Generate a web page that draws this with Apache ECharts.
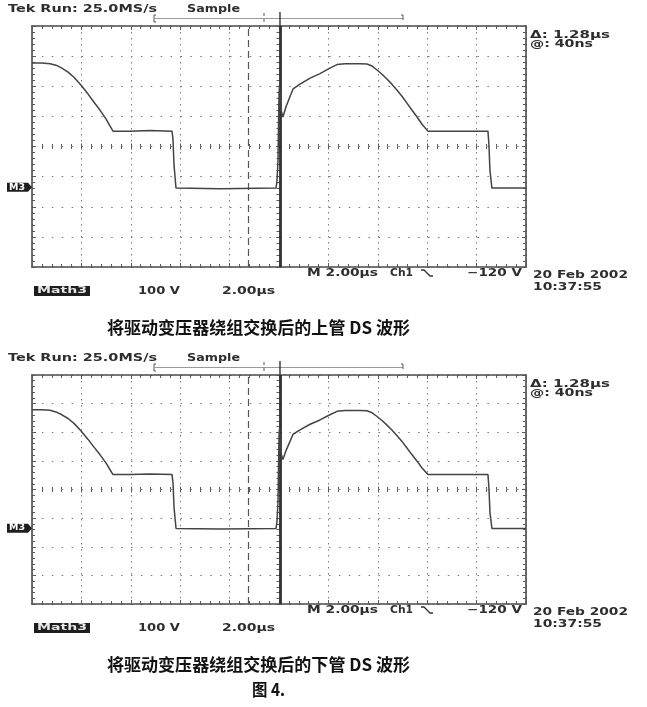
<!DOCTYPE html>
<html>
<head>
<meta charset="utf-8">
<script src="https://cdn.jsdelivr.net/npm/echarts@6/dist/echarts.min.js"></script>
<style>
  html, body { margin: 0; padding: 0; background: #fff; }
  #c { width: 647px; height: 707px; }
</style>
</head>
<body>
<div id="c"></div>
<script>
// Upper switch drain-source voltage after swapping the drive transformer windings
const upperTime = [-10.00, -9.60, -9.27, -9.03, -8.79, -8.54, -8.30, -8.02, -7.73, -7.49, -7.25, -7.00, -6.84, -6.72,
  -6.03, -5.22, -4.33, -4.29, -4.25, -4.17, -2.39, -0.12, -0.08, -0.04, 0.00, 0.02, 0.08, 0.16, 0.28, 0.45, 0.57,
  0.85, 1.26, 1.66, 2.06, 2.35, 2.67, 3.28, 3.56, 3.77, 3.97, 4.17, 4.37, 4.57, 4.78, 4.98, 5.18, 5.38, 5.59, 5.79,
  6.03, 7.33, 8.46, 8.50, 8.54, 8.62, 10.00];
const upperVolts = [412, 412, 410, 405, 395, 382, 365, 339, 309, 282, 256, 226, 203, 186,
  186, 188, 186, 156, 73, -3, -5, -3, 23, 90, 306, 339, 256, 233, 266, 302, 326,
  342, 362, 377, 395, 407, 410, 410, 409, 402, 389, 375, 359, 342, 322, 302, 279, 256, 233, 209,
  186, 186, 186, 140, 56, -3, -3];

// Lower switch drain-source voltage, same conditions
const lowerTime = [-10.00, -9.60, -9.27, -9.03, -8.79, -8.54, -8.30, -8.02, -7.73, -7.49, -7.25, -7.00, -6.84, -6.72,
  -6.03, -5.22, -4.33, -4.29, -4.25, -4.17, -2.39, -0.12, -0.08, -0.04, 0.00, 0.02, 0.08, 0.16, 0.28, 0.45, 0.57,
  0.85, 1.26, 1.66, 2.06, 2.35, 2.67, 3.28, 3.56, 3.77, 3.97, 4.17, 4.37, 4.57, 4.78, 4.98, 5.18, 5.38, 5.59, 5.79,
  6.03, 7.33, 8.46, 8.50, 8.54, 8.62, 10.00];
const lowerVolts = [414, 414, 412, 406, 396, 383, 366, 340, 310, 283, 257, 227, 204, 187,
  187, 189, 187, 156, 73, -1, -3, -1, 25, 95, 320, 348, 262, 240, 270, 304, 328,
  343, 363, 378, 396, 408, 411, 411, 410, 403, 390, 376, 360, 343, 323, 303, 280, 257, 234, 210,
  187, 187, 187, 140, 56, -1, -1];

// Cursor positions (µs): inactive (dashed) and active (solid)
const cursorTimes = [-1.24, 0.04];

// Scope settings
const usPerDiv = 2;
const voltsPerDiv = 100;
const groundDiv = -1.35;      // Math3 reference marker, divisions from screen centre
const captions = ['将驱动变压器绕组交换后的上管 DS 波形', '将驱动变压器绕组交换后的下管 DS 波形'];
const figureTitle = '图 4.';

const grids = [
  { left: 32, top: 26, width: 494, height: 241 },
  { left: 32, top: 375, width: 494, height: 229 }
];

const toScreen = (times, volts) => times.map((t, i) => [t, volts[i] / voltsPerDiv + groundDiv]);

const tickColor = '#5a5a5a';
const gridDots = '#7a7a7a';
const borderLine = { show: true, onZero: false, lineStyle: { color: '#4a4a4a', width: 1.6 } };

function axesFor(g) {
  const base = g * 4;
  const xCommon = { type: 'value', gridIndex: g, min: -5 * usPerDiv, max: 5 * usPerDiv, interval: usPerDiv,
    axisLabel: { show: false }, splitLine: { show: false } };
  const yCommon = { type: 'value', gridIndex: g, min: -4, max: 4, interval: 1,
    axisLabel: { show: false }, splitLine: { show: false } };
  const ticks = (inside, len) => ({ show: true, inside, length: len, lineStyle: { color: tickColor, width: 1 } });
  const minor = (len) => ({ show: true, splitNumber: 5, length: len, lineStyle: { color: tickColor, width: 1 } });
  const hidden = (idx) => ({ show: true, onZero: true, onZeroAxisIndex: idx, lineStyle: { color: 'rgba(0,0,0,0)' } });

  const xs = [
    Object.assign({}, xCommon, { position: 'bottom', axisLine: borderLine, axisTick: ticks(true, 4), minorTick: minor(3),
      splitLine: { show: true, lineStyle: { color: gridDots, width: 1, type: [1.5, 4.5] } } }),
    Object.assign({}, xCommon, { position: 'top', axisLine: borderLine, axisTick: ticks(true, 4), minorTick: minor(3) }),
    Object.assign({}, xCommon, { position: 'bottom', axisLine: hidden(base), axisTick: ticks(true, 3), minorTick: minor(2.5) }),
    Object.assign({}, xCommon, { position: 'bottom', axisLine: hidden(base), axisTick: ticks(false, 3), minorTick: minor(2.5) })
  ];
  const ys = [
    Object.assign({}, yCommon, { position: 'left', axisLine: borderLine, axisTick: ticks(true, 4), minorTick: minor(3),
      splitLine: { show: true, lineStyle: { color: gridDots, width: 1, type: [1.5, 8.4] } } }),
    Object.assign({}, yCommon, { position: 'right', axisLine: borderLine, axisTick: ticks(true, 4), minorTick: minor(3) }),
    Object.assign({}, yCommon, { position: 'left', axisLine: hidden(base), axisTick: ticks(true, 3), minorTick: minor(2.5) }),
    Object.assign({}, yCommon, { position: 'left', axisLine: hidden(base), axisTick: ticks(false, 3), minorTick: minor(2.5) })
  ];
  return { xs, ys };
}

function traceSeries(g, data) {
  return {
    type: 'line', xAxisIndex: g * 4, yAxisIndex: g * 4, data, showSymbol: false, symbol: 'none',
    lineStyle: { color: '#444', width: 1.5 }, animation: false, z: 5,
    markLine: {
      silent: true, symbol: 'none', label: { show: false }, animation: false,
      data: [
        { xAxis: cursorTimes[0], lineStyle: { type: [7, 4], color: '#555', width: 1.2 } },
        { xAxis: cursorTimes[1], lineStyle: { type: 'solid', color: '#333', width: 2.8 } }
      ]
    }
  };
}

const a0 = axesFor(0), a1 = axesFor(1);
const chart = echarts.init(document.getElementById('c'));
chart.setOption({
  animation: false,
  backgroundColor: '#fff',
  grid: grids,
  xAxis: a0.xs.concat(a1.xs),
  yAxis: a0.ys.concat(a1.ys),
  series: [
    traceSeries(0, toScreen(upperTime, upperVolts)),
    traceSeries(1, toScreen(lowerTime, lowerVolts))
  ]
});

// Screen annotations (readouts, record bracket, markers, captions)
const measure = document.createElement('canvas').getContext('2d');
const scopeFont = 'bold 10px "DejaVu Sans"';
function label(text, x, y, width, font, color) {
  font = font || scopeFont;
  measure.font = font;
  const w = measure.measureText(text).width;
  return {
    type: 'text', x, y, scaleX: width ? width / w : 1, silent: true, z: 10,
    style: { text, x: 0, y: 0, font, fill: color || '#2e2e2e',
      textAlign: 'left', textVerticalAlign: 'middle', align: 'left', verticalAlign: 'middle' }
  };
}
function line(points, color, width, dash) {
  return { type: 'polyline', silent: true, z: 10,
    shape: { points }, style: { stroke: color, lineWidth: width, fill: null, lineDash: dash || null } };
}

const delta = (cursorTimes[1] - cursorTimes[0]).toFixed(2);
const at = Math.round(cursorTimes[1] * 1000);
const elements = [];
grids.forEach((gr, g) => {
  const top = gr.top, bottom = gr.top + gr.height;
  const cx = chart.convertToPixel({ xAxisIndex: g * 4 }, cursorTimes[1]);
  const gy = chart.convertToPixel({ yAxisIndex: g * 4 }, groundDiv);
  // header
  elements.push(label('Tek Run: 25.0MS/s', 8, top - 17, 149));
  elements.push(label('Sample', 187, top - 17, 53));
  elements.push(line([[156, top - 4], [154, top - 4], [154, top - 11], [156, top - 11]], '#555', 1));
  elements.push(line([[154, top - 7.5], [403, top - 7.5]], '#9a9a9a', 1));
  elements.push(line([[401, top - 11], [403, top - 11], [403, top - 6]], '#555', 1));
  elements.push(line([[264, top - 13], [264, top - 2]], '#555', 1, [3, 3]));
  elements.push(line([[cx, top - 14], [cx, top]], '#333', 1.4));
  elements.push(label('Δ: ' + delta + 'µs', 530, top + 9, 80));
  elements.push(label('@: ' + at + 'ns', 530, top + 18, 63));
  // ground marker
  elements.push({ type: 'polygon', silent: true, z: 10,
    shape: { points: [[7, gy - 4.5], [28, gy - 4.5], [32, gy], [28, gy + 4.5], [7, gy + 4.5]] },
    style: { fill: '#1e1e1e' } });
  elements.push(label('M3', 9, gy, 16, 'bold 9px "DejaVu Sans"', '#fff'));
  // footer
  elements.push(label('M 2.00µs', 307, bottom + 6, 71));
  elements.push(label('Ch1', 390, bottom + 6, 23));
  elements.push(line([[421, bottom + 3], [424, bottom + 3], [430, bottom + 9], [433, bottom + 9]], '#333', 1.3));
  elements.push(label('−120 V', 467, bottom + 6, 55));
  elements.push(label('20 Feb 2002', 533, bottom + 8, 95));
  elements.push(label('10:37:55', 533, bottom + 20, 69));
  elements.push({ type: 'rect', silent: true, z: 10, shape: { x: 34, y: bottom + 19, width: 56, height: 10 },
    style: { fill: '#1e1e1e' } });
  elements.push(label('Math3', 37, bottom + 24, 50, 'bold 9px "DejaVu Sans"', '#e8e8e8'));
  elements.push(label('100 V', 138, bottom + 24, 42));
  elements.push(label('2.00µs', 222, bottom + 24, 53));
  // caption
  elements.push(label(captions[g], 107, bottom + 61, 303, 'bold 17px "Noto Sans CJK SC"', '#111'));
});
elements.push(label(figureTitle, 252, 690, 33, 'bold 17px "Noto Sans CJK SC"', '#111'));

chart.setOption({ graphic: { elements } });
</script>
</body>
</html>
